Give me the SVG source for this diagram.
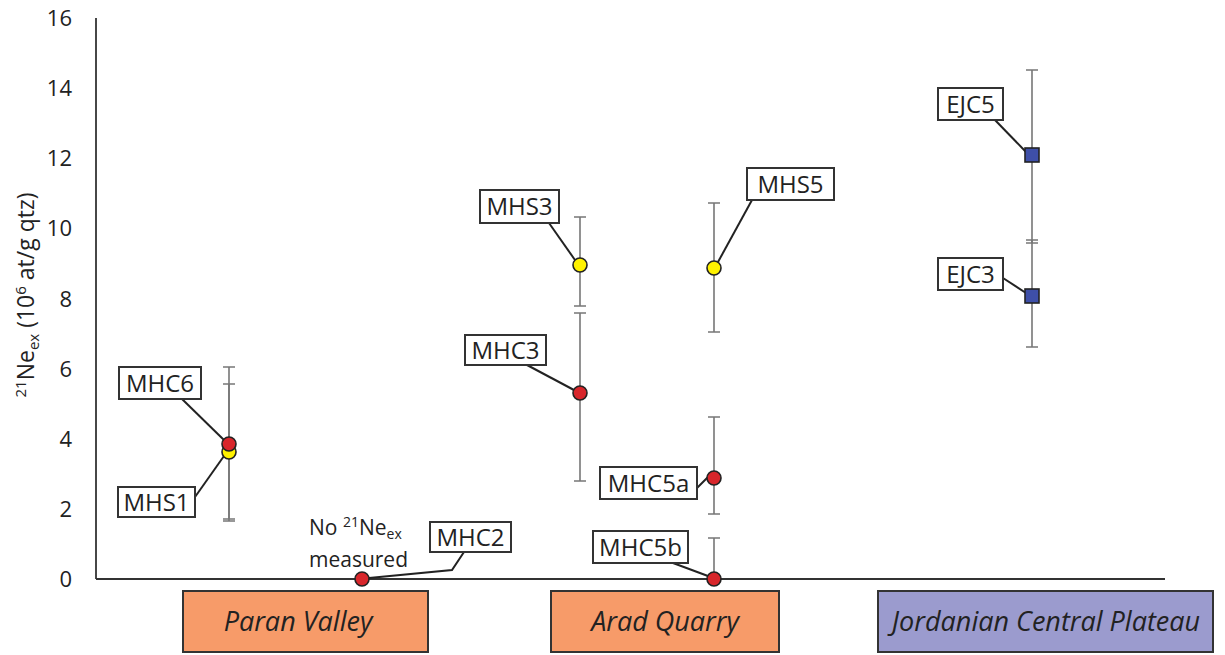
<svg xmlns="http://www.w3.org/2000/svg" width="1225" height="655" viewBox="0 0 1225 655">
<style>
.tick{font-family:"Open Sans","Liberation Sans",sans-serif;font-size:22px;fill:#222;text-anchor:end}
.lbl rect{fill:#fff;stroke:#333;stroke-width:2}
.lbl text{font-family:"Open Sans","Liberation Sans",sans-serif;font-size:24px;fill:#222;text-anchor:middle}
.conn{stroke:#222;stroke-width:2;fill:none}
.err{stroke:#777;stroke-width:1.6;fill:none}
.dot{stroke:#222;stroke-width:1.6}
.red{fill:#D8262B}
.yel{fill:#FFF200}
.blu{fill:#3E4FA8}
.site rect{stroke:#333;stroke-width:2}
.site text{font-family:"Open Sans","Liberation Sans",sans-serif;font-style:italic;font-size:27px;fill:#222;text-anchor:middle}
.note{font-family:"Open Sans","Liberation Sans",sans-serif;font-size:21px;fill:#222}
</style>
<rect width="1225" height="655" fill="#fff"/>
<g id="axes">
<line x1="96" y1="18" x2="96" y2="579" stroke="#333" stroke-width="1.8"/>
<line x1="96" y1="579" x2="1165" y2="579" stroke="#333" stroke-width="1.8"/>
<text class="tick" x="72" y="26">16</text>
<text class="tick" x="72" y="96">14</text>
<text class="tick" x="72" y="166">12</text>
<text class="tick" x="72" y="236">10</text>
<text class="tick" x="72" y="307">8</text>
<text class="tick" x="72" y="377">6</text>
<text class="tick" x="72" y="447">4</text>
<text class="tick" x="72" y="517">2</text>
<text class="tick" x="72" y="587">0</text>
<text transform="translate(34,295) rotate(-90)" font-family="'Open Sans','Liberation Sans',sans-serif" font-size="23" fill="#222" text-anchor="middle"><tspan font-size="15" dy="-8">21</tspan><tspan dy="8">Ne</tspan><tspan font-size="15" dy="5">ex</tspan><tspan dy="-5"> (10</tspan><tspan font-size="15" dy="-8">6</tspan><tspan dy="8"> at/g qtz)</tspan></text>
</g>
<g id="errorbars">
<path class="err" d="M229 367V521M223 367H235M223 521H235"/>
<path class="err" d="M229 384V519M223 384H235M223 519H235"/>
<path class="err" d="M580 217V306M574 217H586M574 306H586"/>
<path class="err" d="M580 313V481M574 313H586M574 481H586"/>
<path class="err" d="M714 203V332M708 203H720M708 332H720"/>
<path class="err" d="M714 417V514M708 417H720M708 514H720"/>
<path class="err" d="M714 538V579M708 538H720"/>
<path class="err" d="M1032 70V243M1026 70H1038M1026 243H1038"/>
<path class="err" d="M1032 240V347M1026 240H1038M1026 347H1038"/>
</g>
<g id="connectors">
<path class="conn" d="M182 399L225 441"/>
<path class="conn" d="M195 497L224 456"/>
<path class="conn" d="M464 552L452 570L369 578"/>
<path class="conn" d="M549 223L575 260"/>
<path class="conn" d="M527 365L574 390"/>
<path class="conn" d="M697 488L708 477"/>
<path class="conn" d="M673 563L708 576"/>
<path class="conn" d="M752 200L718 262"/>
<path class="conn" d="M995 120L1026 152"/>
<path class="conn" d="M1003 278L1026 293"/>
</g>
<g id="points">
<circle class="dot yel" cx="229" cy="452" r="7"/>
<circle class="dot red" cx="229" cy="444" r="7"/>
<circle class="dot red" cx="362" cy="579" r="7"/>
<circle class="dot yel" cx="580" cy="265" r="7"/>
<circle class="dot red" cx="580" cy="393" r="7"/>
<circle class="dot yel" cx="714" cy="268" r="7"/>
<circle class="dot red" cx="714" cy="478" r="7"/>
<circle class="dot red" cx="714" cy="579" r="7"/>
<rect class="dot blu" x="1025" y="148" width="14" height="14"/>
<rect class="dot blu" x="1025" y="289" width="14" height="14"/>
</g>
<g id="MHC6" class="lbl"><rect x="119" y="367" width="82" height="32"/><text x="160" y="392">MHC6</text></g>
<g id="MHS1" class="lbl"><rect x="118" y="487" width="77" height="30"/><text x="156.5" y="511">MHS1</text></g>
<g id="MHC2" class="lbl"><rect x="430" y="522" width="81" height="30"/><text x="470.5" y="546">MHC2</text></g>
<g id="MHS3" class="lbl"><rect x="480" y="190" width="79" height="33"/><text x="519.5" y="215">MHS3</text></g>
<g id="MHC3" class="lbl"><rect x="465" y="335" width="81" height="30"/><text x="505.5" y="359">MHC3</text></g>
<g id="MHC5a" class="lbl"><rect x="600" y="467" width="97" height="32"/><text x="648.5" y="492">MHC5a</text></g>
<g id="MHC5b" class="lbl"><rect x="593" y="531" width="95" height="32"/><text x="640.5" y="556">MHC5b</text></g>
<g id="MHS5" class="lbl"><rect x="747" y="168" width="87" height="32"/><text x="790.5" y="193">MHS5</text></g>
<g id="EJC5" class="lbl"><rect x="938" y="88" width="65" height="32"/><text x="970.5" y="113">EJC5</text></g>
<g id="EJC3" class="lbl"><rect x="938" y="258" width="65" height="32"/><text x="970.5" y="283">EJC3</text></g>
<g id="note">
<text class="note" x="309" y="535">No <tspan font-size="14" dy="-8">21</tspan><tspan dy="8">Ne</tspan><tspan font-size="14" dy="4">ex</tspan></text>
<text class="note" x="309" y="567">measured</text>
</g>
<g id="ParanValley" class="site"><rect x="183" y="591" width="245" height="61" fill="#F79B69"/><text x="298" y="631">Paran Valley</text></g>
<g id="AradQuarry" class="site"><rect x="551" y="591" width="228" height="61" fill="#F79B69"/><text x="665" y="631">Arad Quarry</text></g>
<g id="JordanianCentralPlateau" class="site"><rect x="878" y="591" width="335" height="61" fill="#9B9BCE"/><text x="1046" y="631">Jordanian Central Plateau</text></g>
</svg>
